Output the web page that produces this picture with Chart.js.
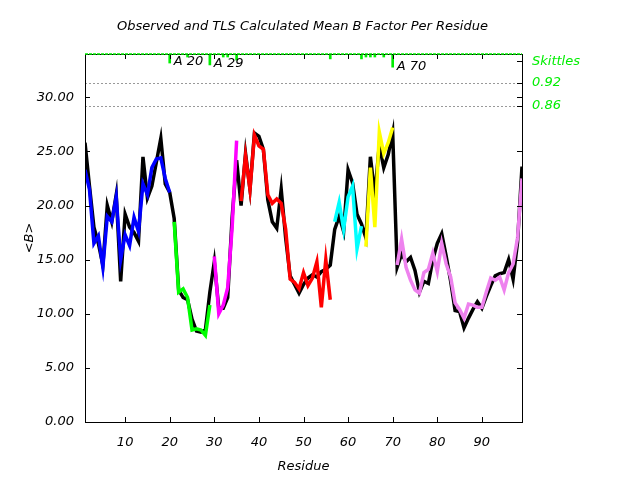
<!DOCTYPE html>
<html>
<head>
<meta charset="utf-8">
<script src="https://cdn.jsdelivr.net/npm/chart.js@4.4.1/dist/chart.umd.min.js"></script>
<style>
  body { margin: 0; background: #fff; }
  canvas { display: block; }
</style>
</head>
<body>
<canvas id="chart-bfactor" width="640" height="480"></canvas>
<script>
// residue numbers along the chain
const residues = [
  1, 2, 3, 4, 5, 6, 7, 8, 9, 10, 11, 12, 13, 14, 15, 16, 17, 18, 19, 20,
  21, 22, 23, 24, 25, 26, 27, 28, 29, 30, 31, 32, 33, 34, 35, 36, 37, 38, 39, 40,
  41, 42, 43, 44, 45, 46, 47, 48, 49, 50, 51, 52, 53, 54, 55, 56, 57, 58, 59, 60,
  61, 62, 63, 64, 65, 66, 67, 68, 69, 70, 71, 72, 73, 74, 75, 76, 77, 78, 79, 80,
  81, 82, 83, 84, 85, 86, 87, 88, 89, 90, 91, 92, 93, 94, 95, 96, 97, 98, 99,
];

// observed mean B per residue
const observedB = [
  25.8, 21.8, 18.0, 16.5, 14.5, 20.0, 18.5, 21.0, 13.0, 19.2,
  18.0, 17.5, 16.7, 24.5, 20.7, 21.8, 24.0, 26.2, 22.0, 21.2,
  18.8, 12.2, 11.5, 11.3, 9.5, 8.4, 8.3, 8.5, 12.0, 14.8,
  10.5, 10.5, 11.5, 18.9, 24.2, 20.0, 24.8, 21.5, 26.7, 26.4,
  25.2, 20.5, 18.5, 17.9, 21.5, 17.0, 13.5, 12.7, 11.9, 12.7,
  13.3, 13.6, 13.4, 13.9, 14.1, 14.5, 17.8, 19.0, 17.6, 23.3,
  22.1, 19.2, 18.3, 17.0, 24.5, 21.0, 25.6, 23.5, 24.7, 26.7,
  14.3, 15.5, 14.8, 15.2, 14.0, 12.0, 13.0, 12.8, 15.0, 16.5,
  17.4, 15.3, 13.0, 10.3, 10.2, 8.7, 9.6, 10.4, 11.1, 10.5,
  11.6, 12.6, 13.5, 13.7, 13.8, 15.0, 13.2, 16.6, 23.6,
];

// TLS calculated mean B per residue
const tlsB = [
  23.3, 21.5, 16.5, 17.2, 14.3, 19.0, 18.5, 20.8, 15.0, 17.3,
  16.3, 18.9, 17.6, 22.0, 21.0, 23.5, 24.3, 24.4, 22.5, 21.2,
  18.5, 12.0, 12.3, 11.5, 8.5, 8.6, 8.5, 8.0, 10.8, 15.3,
  10.0, 10.8, 12.4, 18.0, 26.0, 20.4, 24.6, 21.5, 26.5, 25.5,
  25.2, 21.0, 20.2, 20.6, 20.2, 17.8, 13.2, 12.9, 12.3, 13.8,
  12.6, 13.3, 14.8, 10.6, 15.0, 11.3, 18.5, 20.3, 17.8, 20.8,
  21.8, 16.0, 18.1, 16.2, 23.5, 18.0, 26.8, 24.8, 25.8, 27.2,
  14.5, 16.9, 14.3, 13.1, 12.2, 11.9, 13.8, 14.1, 15.6, 13.9,
  16.5, 14.6, 13.4, 11.0, 10.4, 9.6, 10.9, 10.8, 10.6, 10.6,
  12.0, 13.3, 13.1, 13.4, 12.2, 13.8, 14.6, 17.0, 22.5,
];

// TLS groups
const tlsGroupFirst = [1, 21, 30, 36, 57, 64, 71];
const tlsGroupLast = [20, 29, 35, 56, 63, 70, 99];
const tlsGroupColors = ['#0000ff', '#00ff00', '#ff00ff', '#ff0000', '#00ffff', '#ffff00', '#ee82ee'];

const xTicks = [10, 20, 30, 40, 50, 60, 70, 80, 90];
const yTicks = [0, 5, 10, 15, 20, 25, 30];

// skittles markers (hang from the top edge)
const skittleResidues = [20, 24, 29, 32, 33, 35, 56, 63, 64, 65, 66, 68, 70];
const skittleScores = [0.973, 0.989, 0.968, 0.989, 0.989, 0.981, 0.984, 0.984, 0.989, 0.989, 0.989, 0.989, 0.962];
const skittleLabelResidues = [20, 29, 70];
const skittleLabelTexts = ['A 20', 'A 29', 'A 70'];
const skittleAxisValues = [0.978, 0.92, 0.86];
const skittleAxisLabels = ['Skittles', '0.92', '0.86'];
const skittleLevels = [0.92, 0.86];
const skittleTop = 0.997;

const FONT = 'DejaVu Sans';
const GREEN = '#00ee00';

function tlsDatasets() {
  return tlsGroupFirst.map((first, g) => {
    const pts = [];
    residues.forEach((r, i) => {
      if (r >= first && r <= tlsGroupLast[g]) pts.push({ x: r, y: tlsB[i] });
    });
    return {
      type: 'line',
      data: pts,
      borderColor: tlsGroupColors[g],
      borderWidth: 3.5,
      pointRadius: 0,
      tension: 0,
      order: 1,
    };
  });
}

/** frame, inward ticks, reference lines and labels */
const decorPlugin = {
  id: 'decor',
  beforeDatasetsDraw(chart) {
    const { ctx, chartArea: a, scales } = chart;
    ctx.save();
    ctx.strokeStyle = '#999';
    ctx.lineWidth = 1;
    ctx.setLineDash([2, 2]);
    skittleLevels.forEach((v) => {
      const y = Math.round(scales.y2.getPixelForValue(v)) + 0.5;
      ctx.beginPath();
      ctx.moveTo(a.left, y);
      ctx.lineTo(a.right, y);
      ctx.stroke();
    });
    ctx.restore();
  },
  afterDatasetsDraw(chart) {
    const { ctx, chartArea: a, scales } = chart;
    ctx.save();
    ctx.strokeStyle = '#000';
    ctx.lineWidth = 1;
    ctx.strokeRect(Math.round(a.left) + 0.5, Math.round(a.top) + 0.5,
      Math.round(a.right - a.left), Math.round(a.bottom - a.top));

    const tl = 5;
    ctx.beginPath();
    xTicks.forEach((v) => {
      const x = Math.round(scales.x.getPixelForValue(v)) + 0.5;
      ctx.moveTo(x, a.bottom); ctx.lineTo(x, a.bottom - tl);
      ctx.moveTo(x, a.top); ctx.lineTo(x, a.top + tl);
    });
    yTicks.forEach((v) => {
      const y = Math.round(scales.y.getPixelForValue(v)) + 0.5;
      ctx.moveTo(a.left, y); ctx.lineTo(a.left + tl, y);
      ctx.moveTo(a.right, y); ctx.lineTo(a.right - tl, y);
    });
    skittleAxisValues.forEach((v) => {
      const y = Math.round(scales.y2.getPixelForValue(v)) + 0.5;
      ctx.moveTo(a.right, y); ctx.lineTo(a.right - tl, y);
    });
    ctx.stroke();

    // green dotted top edge
    ctx.strokeStyle = GREEN;
    ctx.lineWidth = 1.5;
    ctx.setLineDash([3, 1]);
    ctx.beginPath();
    ctx.moveTo(a.left, Math.round(a.top));
    ctx.lineTo(a.right, Math.round(a.top));
    ctx.stroke();
    ctx.setLineDash([]);

    // residue labels next to the long skittles
    ctx.fillStyle = '#000';
    ctx.font = `italic 13px "${FONT}"`;
    ctx.textAlign = 'left';
    ctx.textBaseline = 'middle';
    skittleLabelResidues.forEach((r, i) => {
      const idx = skittleResidues.indexOf(r);
      const x = scales.x.getPixelForValue(r) + 4;
      const y = scales.y2.getPixelForValue(skittleScores[idx]) - 1;
      ctx.fillText(skittleLabelTexts[i], x, y);
    });

    // title
    ctx.textAlign = 'center';
    ctx.font = `italic 13px "${FONT}"`;
    ctx.fillText('Observed and TLS Calculated Mean B Factor Per Residue', (a.left + a.right) / 2 - 1, 27);
    ctx.restore();
  },
};

new Chart(document.getElementById('chart-bfactor'), {
  type: 'line',
  data: {
    datasets: [
      ...tlsDatasets(),
      {
        type: 'line',
        data: residues.map((r, i) => ({ x: r, y: observedB[i] })),
        borderColor: '#000',
        borderWidth: 3.5,
        pointRadius: 0,
        tension: 0,
        order: 2,
      },
      {
        type: 'bar',
        yAxisID: 'y2',
        data: skittleResidues.map((r, i) => ({ x: r, y: [skittleTop, skittleScores[i]] })),
        backgroundColor: GREEN,
        barThickness: 2,
        grouped: false,
        order: 0,
      },
    ],
  },
  options: {
    responsive: false,
    animation: false,
    devicePixelRatio: 1,
    layout: { padding: { top: 54 } },
    plugins: { legend: { display: false }, tooltip: { enabled: false }, title: { display: false } },
    scales: {
      x: {
        type: 'linear',
        min: 1,
        max: 99,
        offset: false,
        afterBuildTicks: (s) => { s.ticks = xTicks.map((v) => ({ value: v })); },
        afterFit: (s) => { s.height = 58; },
        grid: { display: false },
        border: { display: false },
        ticks: { color: '#000', padding: 5, font: { family: FONT, size: 13, style: 'italic' } },
        title: { display: true, text: 'Residue', color: '#000', padding: 6, font: { family: FONT, size: 13, style: 'italic' } },
      },
      y: {
        min: 0,
        max: 34,
        afterBuildTicks: (s) => { s.ticks = yTicks.map((v) => ({ value: v })); },
        afterFit: (s) => { s.width = 85; },
        grid: { display: false },
        border: { display: false },
        ticks: { color: '#000', padding: 3, font: { family: FONT, size: 13, style: 'italic' }, callback: (v) => v.toFixed(2) },
        title: { display: true, text: '<B>', color: '#000', padding: 22, font: { family: FONT, size: 13, style: 'italic' } },
      },
      y2: {
        position: 'right',
        min: 0.02,
        max: skittleTop,
        afterBuildTicks: (s) => { s.ticks = skittleAxisValues.map((v) => ({ value: v })); },
        afterFit: (s) => { s.width = 118; },
        grid: { display: false },
        border: { display: false },
        ticks: { color: GREEN, padding: 2, font: { family: FONT, size: 13, style: 'italic' }, callback: (v, i) => skittleAxisLabels[i] },
      },
    },
  },
  plugins: [decorPlugin],
});
</script>
</body>
</html>
